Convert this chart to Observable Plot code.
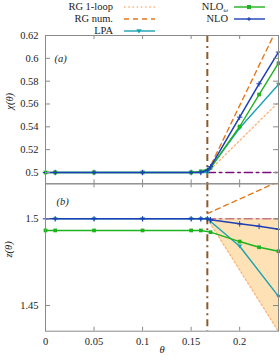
<!DOCTYPE html>
<html><head><meta charset="utf-8">
<script src="https://cdn.jsdelivr.net/npm/d3@7"></script>
<script src="https://cdn.jsdelivr.net/npm/@observablehq/plot@0.6"></script>
<style>
html,body{margin:0;padding:0;background:#fff;}
#chart{position:relative;width:280px;height:360px;overflow:hidden;font-family:"Liberation Serif",serif;}
#chart svg.panel{position:absolute;left:0;}
.leg{position:absolute;font-size:10.5px;line-height:11px;color:#222;white-space:nowrap;text-align:right;}
.sw{position:absolute;}
</style></head><body><div id="chart"></div>
<script>
// ---- tick values / labels ----
const thetaTicks = [0, 0.05, 0.1, 0.15, 0.2];
const thetaTickLabels = ["0", "0.05", "0.1", "0.15", "0.2"];
const chiTicks = [0.5, 0.52, 0.54, 0.56, 0.58, 0.6, 0.62];
const chiTickLabels = ["0.5", "0.52", "0.54", "0.56", "0.58", "0.6", "0.62"];
const zTicks = [1.45, 1.5];
const zTickLabels = ["1.45", "1.5"];
const thetaC = [0.1667];

// ---- series ----
const nloTheta = [0, 0.01, 0.05, 0.1, 0.15, 0.16, 0.1667, 0.17, 0.2, 0.22, 0.24];
const nloChi   = [0.5, 0.5, 0.5, 0.5, 0.5, 0.5, 0.502, 0.505, 0.5485, 0.5777, 0.6055];
const nloZ     = [1.5, 1.5, 1.5, 1.5, 1.5, 1.5, 1.5, 1.4995, 1.4971, 1.4957, 1.494];

const nlowTheta = [0, 0.01, 0.05, 0.1, 0.15, 0.16, 0.17, 0.2, 0.22, 0.24];
const nlowChi   = [0.5, 0.5, 0.5, 0.5, 0.5, 0.501, 0.504, 0.5403, 0.5683, 0.5957];
const nlowZ     = [1.4933, 1.4933, 1.4933, 1.4933, 1.4933, 1.4933, 1.4923, 1.4869, 1.4836, 1.4813];

const lpaTheta = [0.01, 0.05, 0.1, 0.15, 0.16, 0.1667, 0.17, 0.2, 0.24];
const lpaChi   = [0.5, 0.5, 0.5, 0.5, 0.5, 0.5, 0.504, 0.539, 0.5771];
const lpaZ     = [1.5, 1.5, 1.5, 1.5, 1.5, 1.5, 1.4985, 1.4842, 1.4553];

const rgTheta   = [0.1667, 0.24];
const rg1Chi    = [0.5, 0.5616];
const rg1Z      = [1.5, 1.435];
const rgNumChi  = [0.5, 0.629];
const rgNumZ    = [1.503, 1.5215];
const mfChi     = [0.5, 0.5];
const mfZ       = [1.5, 1.5];

// ---- styling ----
const C = {
  nlo: "#1f3fb4", nlow: "#1fb21f", lpa: "#1aa2b4",
  rg1: "#fdb67c", rgNum: "#e2781c", vline: "#8b5a2b", mf: "#7c0c7c",
  shade: "#fed597", axis: "#8a8a8a", text: "#222"
};
const FONT = "Liberation Serif";
const W = 280, ML = 45, MR = 2;

const downTri = {
  draw(ctx, size) {
    const s = Math.sqrt(size / Math.PI);
    ctx.moveTo(-s, -s * 0.65);
    ctx.lineTo(s, -s * 0.65);
    ctx.lineTo(0, s * 0.95);
    ctx.closePath();
  }
};

const rows = (ts, vs) => ts.map((t, i) => ({t, v: vs[i]}));
const band = (ts, lo, hi) => ts.map((t, i) => ({t, lo: lo[i], hi: hi[i]}));

function seriesMarks(key) {
  const lpa = rows(lpaTheta, key === "chi" ? lpaChi : lpaZ);
  const nlow = rows(nlowTheta, key === "chi" ? nlowChi : nlowZ);
  const nlo = rows(nloTheta, key === "chi" ? nloChi : nloZ);
  return [
    Plot.line(lpa, {x: "t", y: "v", stroke: C.lpa, strokeWidth: 1.4}),
    Plot.dot(lpa, {x: "t", y: "v", symbol: downTri, fill: C.lpa, r: 2.5}),
    Plot.line(nlow, {x: "t", y: "v", stroke: C.nlow, strokeWidth: 1.4}),
    Plot.dot(nlow, {x: "t", y: "v", symbol: "square", fill: C.nlow, r: 2.1}),
    Plot.line(nlo, {x: "t", y: "v", stroke: C.nlo, strokeWidth: 1.5}),
    Plot.dot(nlo, {x: "t", y: "v", symbol: "plus", stroke: C.nlo, strokeWidth: 1, r: 1.9})
  ];
}

function panel({height, marginTop, marginBottom, yDomain, yTicks, yLabels, marks, xAxis, top}) {
  const fh = height - marginTop - marginBottom;
  const fw = W - ML - MR;
  const m = [
    ...marks,
    Plot.frame({stroke: C.axis}),
    Plot.tickX(thetaTicks, {x: d => d, insetTop: fh - 4, stroke: C.axis}),
    Plot.tickX(thetaTicks, {x: d => d, insetBottom: fh - 4, stroke: C.axis}),
    Plot.tickY(yTicks, {y: d => d, insetRight: fw - 5, stroke: C.axis}),
    Plot.tickY(yTicks, {y: d => d, insetLeft: fw - 5, stroke: C.axis}),
    Plot.axisY(yTicks, {tickSize: 0, tickPadding: 7, label: null, fill: C.text,
      tickFormat: d => yLabels[yTicks.indexOf(d)]})
  ];
  if (xAxis) {
    m.push(Plot.axisX(thetaTicks, {tickSize: 0, tickPadding: 6, label: null, fill: C.text,
      tickFormat: d => thetaTickLabels[thetaTicks.indexOf(d)]}));
  }
  const svg = Plot.plot({
    width: W, height, marginTop, marginBottom, marginLeft: ML, marginRight: MR,
    x: {domain: [0, 0.24], axis: xAxis ? undefined : null, label: null},
    y: {domain: yDomain, label: null},
    style: {fontFamily: FONT, fontSize: "10.5px", background: "transparent", overflow: "visible", color: C.text},
    marks: m
  });
  svg.classList.add("panel");
  svg.style.top = top + "px";
  return svg;
}

const chart = document.getElementById("chart");

// ---- top panel: chi ----
const topMarks = [
  Plot.line(rows(rgTheta, rg1Chi), {x: "t", y: "v", stroke: C.rg1, strokeWidth: 1.4, strokeDasharray: "1.6,2.6", clip: true}),
  Plot.line(rows(rgTheta, rgNumChi), {x: "t", y: "v", stroke: C.rgNum, strokeWidth: 1.4, strokeDasharray: "5,4", clip: true}),
  Plot.line(rows(rgTheta, mfChi), {x: "t", y: "v", stroke: C.mf, strokeWidth: 1.6, strokeDasharray: "8,4,2.5,4"}),
  Plot.ruleX(thetaC, {x: d => d, stroke: C.vline, strokeWidth: 2, strokeDasharray: "7,4,2,4"}),
  ...seriesMarks("chi"),
  Plot.text(["(a)"], {frameAnchor: "top-left", dx: 9, dy: 19.5, textAnchor: "start", fontStyle: "italic", fill: C.text}),
  Plot.text(["χ(θ)"], {frameAnchor: "left", dx: -36, rotate: -90, fontStyle: "italic", fill: C.text})
];
chart.appendChild(panel({height: 184, marginTop: 35, marginBottom: 0.7,
  yDomain: [0.4901, 0.62], yTicks: chiTicks, yLabels: chiTickLabels, marks: topMarks, xAxis: false, top: 0}));

// ---- bottom panel: z ----
const botMarks = [
  Plot.line(rows(rgTheta, mfZ), {x: "t", y: "v", stroke: C.mf, strokeWidth: 1.6, strokeDasharray: "8,4,2.5,4"}),
  Plot.areaY(band(rgTheta, rg1Z, mfZ), {x: "t", y1: "lo", y2: "hi", fill: C.shade, fillOpacity: 0.72, clip: true}),
  Plot.line(rows(rgTheta, rg1Z), {x: "t", y: "v", stroke: C.rg1, strokeWidth: 1.4, strokeDasharray: "1.6,2.6", clip: true}),
  Plot.line(rows(rgTheta, rgNumZ), {x: "t", y: "v", stroke: C.rgNum, strokeWidth: 1.4, strokeDasharray: "5,4", clip: true}),
  Plot.ruleX(thetaC, {x: d => d, stroke: C.vline, strokeWidth: 2, strokeDasharray: "7,4,2,4"}),
  ...seriesMarks("z"),
  Plot.text(["(b)"], {frameAnchor: "top-left", dx: 11, dy: 14, textAnchor: "start", fontStyle: "italic", fill: C.text}),
  Plot.text(["z(θ)"], {frameAnchor: "left", dx: -37, rotate: -90, fontStyle: "italic", fill: C.text}),
  Plot.text(["θ"], {frameAnchor: "bottom", dy: 22, fontStyle: "italic", fill: C.text})
];
chart.appendChild(panel({height: 177, marginTop: 0.3, marginBottom: 29.3,
  yDomain: [1.4352, 1.5202], yTicks: zTicks, yLabels: zTickLabels, marks: botMarks, xAxis: true, top: 183}));

// ---- legend ----
const legendItems = [
  {label: "RG 1-loop", sub: "", col: 0, row: 0, stroke: C.rg1, dash: "1.6,2.6", marker: null},
  {label: "RG num.", sub: "", col: 0, row: 1, stroke: C.rgNum, dash: "5,4", marker: null},
  {label: "LPA", sub: "", col: 0, row: 2, stroke: C.lpa, dash: null, marker: "tri"},
  {label: "NLO", sub: "ω", col: 1, row: 0, stroke: C.nlow, dash: null, marker: "square"},
  {label: "NLO", sub: "", col: 1, row: 1, stroke: C.nlo, dash: null, marker: "plus"}
];
const colText = [113, 228], colSw = [123, 233], rowY = [7, 19, 31];
for (const it of legendItems) {
  const cy = rowY[it.row];
  const d = document.createElement("div");
  d.className = "leg";
  d.style.right = (W - colText[it.col]) + "px";
  d.style.top = (cy - 6) + "px";
  d.textContent = it.label;
  if (it.sub) {
    const s = document.createElement("span");
    s.textContent = it.sub;
    s.style.cssText = "font-size:6.5px;line-height:6px;position:relative;top:1.5px;font-style:italic";
    d.appendChild(s);
  }
  chart.appendChild(d);
  const sw = document.createElementNS("http://www.w3.org/2000/svg", "svg");
  sw.setAttribute("class", "sw");
  sw.setAttribute("width", 34); sw.setAttribute("height", 10);
  sw.style.left = colSw[it.col] + "px"; sw.style.top = (cy - 5) + "px";
  let s = `<line x1="1" y1="5" x2="32" y2="5" stroke="${it.stroke}" stroke-width="1.4" ${it.dash ? `stroke-dasharray="${it.dash}"` : ""}/>`;
  if (it.marker === "tri") s += `<path d="M13.4,3.3L18.6,3.3L16,7.5Z" fill="${it.stroke}"/>`;
  if (it.marker === "square") s += `<rect x="14" y="3" width="4" height="4" fill="${it.stroke}"/>`;
  if (it.marker === "plus") s += `<path d="M14,5H18M16,3V7" stroke="${it.stroke}" stroke-width="1"/>`;
  sw.innerHTML = s;
  chart.appendChild(sw);
}
</script></body></html>
